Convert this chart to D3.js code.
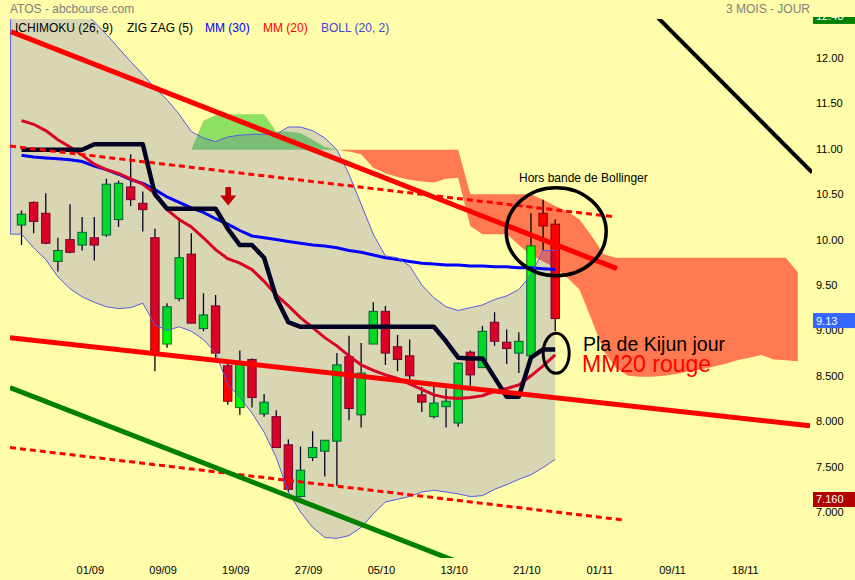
<!DOCTYPE html>
<html><head><meta charset="utf-8">
<script src="https://cdn.jsdelivr.net/npm/d3@7"></script>
<style>html,body{margin:0;padding:0;background:#FFFCAA;overflow:hidden}svg{display:block}</style>
</head><body>
<svg id="chart" width="855" height="580"></svg>
<script>
// ---------- DATA ----------
const opens  = [10.16,10.41,10.29,9.76,10.00,9.94,10.02,10.05,10.22,10.58,10.40,10.02,8.85,9.35,9.84,9.02,9.27,8.61,8.15,8.68,8.08,8.05,7.74,7.17,7.60,7.67,7.78,8.71,8.07,8.85,9.21,8.82,8.72,8.29,8.05,8.16,7.98,8.76,8.59,9.09,8.87,8.75,8.72,10.29,10.17];
const highs  = [10.32,10.42,10.51,10.02,10.39,10.25,10.25,10.67,10.65,10.94,10.53,10.12,9.30,10.24,10.07,9.41,9.39,8.63,8.78,8.69,8.30,8.12,7.80,7.72,7.89,7.79,8.75,8.94,8.86,9.31,9.27,8.95,8.90,8.38,8.38,8.36,8.64,8.78,9.05,9.20,9.01,8.98,10.29,10.44,10.22];
const lows   = [9.94,10.07,9.95,9.65,9.85,9.88,9.77,10.03,10.14,10.37,10.09,8.55,8.81,9.32,9.08,8.99,8.70,8.18,8.07,8.15,8.05,7.71,7.22,7.16,7.56,7.39,7.29,8.01,7.93,8.85,8.62,8.55,8.46,8.10,8.03,7.93,7.94,8.39,8.59,8.83,8.63,8.53,8.72,9.88,8.99];
const closes = [10.28,10.20,9.96,9.88,9.86,10.08,9.94,10.61,10.62,10.44,10.33,8.77,9.26,9.80,9.08,9.17,8.75,8.22,8.63,8.26,8.21,7.71,7.25,7.46,7.71,7.79,8.62,8.14,8.53,9.21,8.75,8.68,8.50,8.21,8.20,8.22,8.64,8.51,8.99,8.88,8.80,8.88,9.93,10.15,9.13];

const bbUpper = [13.0,13.0,12.95,12.85,12.7,12.51,12.40,12.26,12.11,11.96,11.82,11.67,11.54,11.38,11.19,11.12,11.08,11.13,11.15,11.16,11.16,11.16,11.24,11.24,11.20,11.12,10.99,10.72,10.39,10.06,9.82,9.80,9.71,9.50,9.36,9.26,9.22,9.25,9.28,9.34,9.38,9.45,9.61,9.88,9.88];
const bbLower = [10.06,9.91,9.78,9.59,9.46,9.37,9.31,9.26,9.24,9.25,9.30,9.06,9.00,9.04,8.99,8.90,8.75,8.41,8.26,8.09,7.88,7.60,7.22,7.00,6.83,6.72,6.71,6.74,6.83,6.98,7.11,7.14,7.17,7.22,7.24,7.22,7.20,7.17,7.18,7.25,7.30,7.36,7.41,7.49,7.58];

const mm30 = [10.93,10.91,10.90,10.89,10.88,10.86,10.81,10.77,10.72,10.66,10.62,10.55,10.47,10.41,10.35,10.30,10.23,10.17,10.10,10.04,10.02,10.00,9.98,9.96,9.94,9.93,9.91,9.88,9.86,9.83,9.80,9.78,9.76,9.74,9.73,9.72,9.72,9.71,9.71,9.70,9.70,9.69,9.69,9.68,9.67];
const mm20 = [11.31,11.27,11.20,11.10,11.02,10.93,10.83,10.77,10.73,10.67,10.61,10.51,10.33,10.22,10.14,10.02,9.89,9.79,9.74,9.67,9.54,9.39,9.27,9.14,9.03,8.92,8.83,8.72,8.62,8.56,8.51,8.47,8.41,8.35,8.29,8.26,8.25,8.26,8.28,8.33,8.36,8.40,8.50,8.61,8.73];
const kijun = [10.99,10.99,10.99,10.99,10.99,10.99,11.05,11.05,11.05,11.05,11.05,10.50,10.34,10.34,10.34,10.34,10.34,10.12,9.94,9.94,9.80,9.36,9.09,9.04,9.04,9.04,9.04,9.04,9.04,9.04,9.04,9.04,9.04,9.04,9.04,8.88,8.70,8.69,8.69,8.48,8.27,8.27,8.70,8.79,8.79];

const cloudStart = 14;
const senkouA = [10.99,11.31,11.37,11.38,11.38,11.38,11.38,11.19,11.19,11.17,11.10,11.02,10.99,10.97,10.94,10.79,10.73,10.69,10.66,10.64,10.63,10.67,10.68,10.15,10.06,10.06,10.06,9.94,9.83,9.76,9.69,9.58,9.45,9.12,8.77,8.59,8.50,8.49,8.49,8.50,8.52,8.55,8.57,8.60,8.63,8.67,8.70,8.73,8.68,8.67,8.66];
const senkouB = [10.99,10.99,10.99,10.99,10.99,10.99,10.99,10.99,10.99,10.99,10.99,10.99,10.99,10.99,10.99,10.99,10.99,10.99,10.99,10.99,10.99,10.99,10.99,10.50,10.50,10.50,10.50,10.50,10.50,10.44,10.37,10.31,10.22,10.04,9.84,9.80,9.80,9.80,9.80,9.80,9.80,9.80,9.80,9.80,9.80,9.80,9.80,9.80,9.80,9.80,9.64];

const dateTicks  = [6,12,18,24,30,36,42,48,54,60];
const dateLabels = ["01/09","09/09","19/09","27/09","05/10","13/10","21/10","01/11","09/11","18/11"];
const priceTicks  = [12,11.5,11,10.5,10,9.5,9,8.5,8,7.5,7];
const priceLabels = ["12.00","11.50","11.00","10.50","10.00","9.50","9.000","8.500","8.000","7.500","7.000"];

// trend lines: [dayIndex, price] end points
const resistanceLine = [[-0.87,12.29],[49.09,9.68]];
const supportLine    = [[-0.95,8.92],[65.0,7.95]];
const greenLine      = [[-0.95,8.37],[36.15,6.44]];
const dashUpper      = [[-0.95,11.03],[48.93,10.25]];
const dashLower      = [[-0.95,7.71],[49.75,6.91]];
const blackLine      = [[51.9,12.52],[65.17,10.74]];

const markerValues = [12.48, 9.13, 7.16];
const markerLabels = ["12.48","9.13","7.160"];

// ---------- DRAW ----------
const W = 855, H = 580;
const FONT = "Arial, 'Liberation Sans', sans-serif";
const x = d3.scaleLinear().domain([0, 44]).range([21.5, 21.5 + 44 * 12.13]);
const y = d3.scaleLinear().domain([7, 12]).range([512, 58]);

const svg = d3.select("#chart").attr("font-family", FONT);
svg.append("rect").attr("width", W).attr("height", H).attr("fill", "#FFFCAA");
const defs = svg.append("defs");
defs.append("clipPath").attr("id", "plot").append("rect")
  .attr("x", 10).attr("y", 19).attr("width", 802).attr("height", 539);
defs.append("clipPath").attr("id", "axisclip").append("rect")
  .attr("x", 810).attr("y", 17).attr("width", 50).attr("height", 560);

const g = svg.append("g").attr("clip-path", "url(#plot)");

// Ichimoku cloud
const cloud = senkouA.map((a, i) => ({ k: cloudStart + i, a, b: senkouB[i] }));
g.append("path").datum(cloud).attr("fill", "#8EE060")
  .attr("d", d3.area().x(d => x(d.k)).y0(d => y(d.b)).y1(d => y(Math.max(d.a, d.b))));
g.append("path").datum(cloud).attr("fill", "#FF7A50")
  .attr("d", d3.area().x(d => x(d.k)).y0(d => y(d.b)).y1(d => y(Math.min(d.a, d.b))));

// Candles
const candles = opens.map((o, i) => ({ k: i, o, h: highs[i], l: lows[i], c: closes[i] }));
const cg = g.append("g");
cg.selectAll("line").data(candles).join("line")
  .attr("x1", d => x(d.k)).attr("x2", d => x(d.k))
  .attr("y1", d => y(d.h)).attr("y2", d => y(d.l))
  .attr("stroke", "#000").attr("stroke-width", 1.3);
cg.selectAll("rect").data(candles).join("rect")
  .attr("x", d => x(d.k) - 4.2).attr("width", 8.4)
  .attr("y", d => y(Math.max(d.o, d.c)))
  .attr("height", d => Math.max(1, Math.abs(y(d.o) - y(d.c))))
  .attr("fill", d => d.c >= d.o ? "#00FF00" : "#FF0000")
  .attr("stroke", d => d.c >= d.o ? "#006A1A" : "#8A0010").attr("stroke-width", 1);

// Moving averages & kijun
const line = d3.line().x((d, i) => x(i)).y(d => y(d));
g.append("path").datum(mm30).attr("d", line).attr("fill", "none")
  .attr("stroke", "#0000FF").attr("stroke-width", 3);
g.append("path").datum(mm20).attr("d", line).attr("fill", "none")
  .attr("stroke", "#FF0000").attr("stroke-width", 3);
g.append("path").datum(kijun).attr("d", line).attr("fill", "none")
  .attr("stroke", "#000").attr("stroke-width", 4.5).attr("stroke-linejoin", "round");

// Bollinger band (translucent overlay)
const band = bbUpper.map((u, i) => ({ k: i, u, l: bbLower[i] }));
const bandExt = [{ k: -0.9, u: band[0].u, l: band[0].l }, ...band];
g.append("path").datum(bandExt)
  .attr("fill", "rgb(20,20,230)").attr("fill-opacity", 0.16)
  .attr("d", d3.area().x(d => x(d.k)).y0(d => y(d.l)).y1(d => y(d.u)));
const outline = [...bandExt.map(d => [d.k, d.u]).reverse(), ...bandExt.map(d => [d.k, d.l])];
g.append("path").datum(outline)
  .attr("d", d3.line().x(d => x(d[0])).y(d => y(d[1])))
  .attr("fill", "none").attr("stroke", "#5A5AE6").attr("stroke-width", 1);

// Trend lines
const seg = d3.line().x(d => x(d[0])).y(d => y(d[1]));
g.append("path").datum(dashUpper).attr("d", seg).attr("stroke", "#FF0000").attr("stroke-width", 3).attr("stroke-dasharray", "6,4").attr("fill", "none");
g.append("path").datum(dashLower).attr("d", seg).attr("stroke", "#FF0000").attr("stroke-width", 3).attr("stroke-dasharray", "6,4").attr("fill", "none");
g.append("path").datum(greenLine).attr("d", seg).attr("stroke", "#008000").attr("stroke-width", 5).attr("fill", "none");
g.append("path").datum(supportLine).attr("d", seg).attr("stroke", "#FF0000").attr("stroke-width", 5).attr("fill", "none");
g.append("path").datum(resistanceLine).attr("d", seg).attr("stroke", "#FF0000").attr("stroke-width", 5).attr("fill", "none");
g.append("path").datum(blackLine).attr("d", seg).attr("stroke", "#000").attr("stroke-width", 4).attr("fill", "none");

// Annotations
const ann = svg.append("g");
ann.append("ellipse").attr("cx", x(44.08)).attr("cy", y(10.086)).attr("rx", 50).attr("ry", 44)
  .attr("fill", "none").attr("stroke", "#000").attr("stroke-width", 3.5);
ann.append("ellipse").attr("cx", x(44.08)).attr("cy", y(8.748)).attr("rx", 13).attr("ry", 20)
  .attr("fill", "none").attr("stroke", "#000").attr("stroke-width", 3);
ann.append("text").attr("x", 519).attr("y", 182).attr("font-size", 12).attr("fill", "#000")
  .text("Hors bande de Bollinger");
ann.append("text").attr("x", 583).attr("y", 351).attr("font-size", 19.5).attr("fill", "#000")
  .text("Pla de Kijun jour");
ann.append("text").attr("x", 582).attr("y", 372).attr("font-size", 23).attr("fill", "#FF0000")
  .text("MM20 rouge");
// down arrow
const ax = x(17.04), ay = y(10.58);
ann.append("path")
  .attr("d", `M${ax-2.8},${ay} L${ax+2.8},${ay} L${ax+2.8},${ay+8.5} L${ax+8},${ay+8.5} L${ax},${ay+18.5} L${ax-8},${ay+8.5} L${ax-2.8},${ay+8.5} Z`)
  .attr("fill", "#C00000");

// Title & legend
svg.append("text").attr("x", 10).attr("y", 13).attr("font-size", 12).attr("fill", "#808080").text("ATOS - abcbourse.com");
svg.append("text").attr("x", 810).attr("y", 13).attr("font-size", 12).attr("fill", "#808080").attr("text-anchor", "end").text("3 MOIS - JOUR");
const legend = [
  { t: "ICHIMOKU (26, 9)", c: "#000", xx: 15 },
  { t: "ZIG ZAG (5)", c: "#000", xx: 127 },
  { t: "MM (30)", c: "#0000FF", xx: 205 },
  { t: "MM (20)", c: "#FF0000", xx: 263 },
  { t: "BOLL (20, 2)", c: "#4646D2", xx: 321 }
];
svg.append("g").selectAll("text").data(legend).join("text")
  .attr("x", d => d.xx).attr("y", 32).attr("font-size", 12).attr("fill", d => d.c).text(d => d.t);

// Right price axis
const ya = svg.append("g").attr("transform", "translate(812,0)")
  .call(d3.axisRight(y).tickValues(priceTicks).tickFormat((d, i) => priceLabels[i]).tickSize(0).tickPadding(4));
ya.select(".domain").remove();
ya.selectAll("text").attr("font-size", 11).attr("fill", "#000").attr("font-family", FONT);

// Price markers
const markerColors = ["#008000", "#3366FF", "#B00000"];
const mk = svg.append("g").attr("clip-path", "url(#axisclip)");
const mg = mk.selectAll("g").data(markerValues).join("g")
  .attr("transform", d => `translate(813,${y(d) + 2})`);
mg.append("rect").attr("x", 0).attr("y", -7.5).attr("width", 42).attr("height", 15)
  .attr("fill", (d, i) => markerColors[i]);
mg.append("text").attr("x", 3).attr("y", 4).attr("font-size", 11).attr("fill", "#fff")
  .text((d, i) => markerLabels[i]);

// Bottom date axis
const xa = svg.append("g").attr("transform", "translate(0,574)")
  .call(d3.axisBottom(x).tickValues(dateTicks).tickFormat((d, i) => dateLabels[i]).tickSize(0).tickPadding(0));
xa.select(".domain").remove();
xa.selectAll("text").attr("y", 0).attr("dy", null).attr("dx", -4.5)
  .attr("font-size", 11).attr("fill", "#000").attr("font-family", FONT);
</script>
</body></html>
